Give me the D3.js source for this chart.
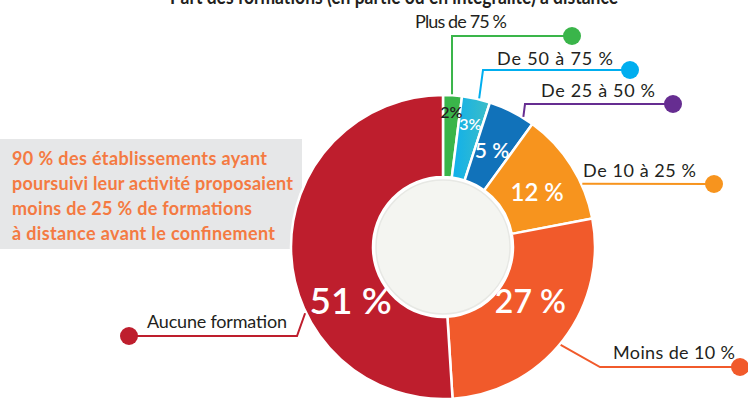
<!DOCTYPE html>
<html>
<head>
<meta charset="utf-8">
<script src="https://cdn.jsdelivr.net/npm/d3@7"></script>
<style>
  body { margin: 0; background: #fff; }
  svg { display: block; font-family: Lato, "Open Sans", sans-serif; }
</style>
</head>
<body>
<svg id="chart" width="748" height="403"></svg>
<script>
// values
var categories = ["Plus de 75 %", "De 50 à 75 %", "De 25 à 50 %", "De 10 à 25 %", "Moins de 10 %", "Aucune formation"];
var shares = [2, 3, 5, 12, 27, 51];
var shareLabels = ["2%", "3%", "5 %", "12 %", "27 %", "51 %"];
var sliceColors = ["#3ab54a", "url(#blueGrad)", "#1172ba", "#f7941e", "#f15a2b", "#be1e2d"];
var dotColors = ["#3ab54a", "#00aeef", "#662d91", "#f7941e", "#f15a2b", "#be1e2d"];
var title = "Part des formations (en partie ou en intégralité) à distance";
var noteLines = ["90 % des établissements ayant", "poursuivi leur activité proposaient",
  "moins de 25 % de formations", "à distance avant le confinement"];

var svg = d3.select("#chart");
var cx = 443, cy = 247, outerR = 152, innerR = 70;

var defs = svg.append("defs");
var grad = defs.append("linearGradient").attr("id", "blueGrad")
  .attr("x1", "0%").attr("x2", "100%").attr("y1", "0%").attr("y2", "0%");
grad.append("stop").attr("offset", "0%").attr("stop-color", "#0fb0ec");
grad.append("stop").attr("offset", "100%").attr("stop-color", "#3dbdc6");

// title (cut at the top in the reference too)
svg.append("text")
  .attr("x", 394).attr("y", 4)
  .attr("text-anchor", "middle")
  .attr("textLength", 448).attr("lengthAdjust", "spacingAndGlyphs")
  .style("font-size", "21px").style("font-weight", "bold")
  .attr("fill", "#231f20")
  .text(title);

// grey note box
var noteWidths = [255, 281, 240, 263];
svg.append("rect").attr("x", 0).attr("y", 139).attr("width", 302).attr("height", 110).attr("fill", "#e6e7e8");
svg.append("g").selectAll("text")
  .data(noteLines)
  .join("text")
  .attr("x", 12)
  .attr("y", (d, i) => 165 + i * 25)
  .attr("textLength", (d, i) => noteWidths[i]).attr("lengthAdjust", "spacing")
  .style("font-size", "18px").style("font-weight", "bold")
  .attr("fill", "#f47a42")
  .text(d => d);

var pie = d3.pie().sort(null).value(d => d);
var arcs = pie(shares);
var arc = d3.arc().innerRadius(innerR).outerRadius(outerR);

var g = svg.append("g").attr("transform", "translate(" + cx + "," + cy + ")");

g.selectAll(".slice")
  .data(arcs)
  .join("path")
  .attr("class", "slice")
  .attr("d", arc)
  .attr("fill", (d, i) => sliceColors[i])
  .attr("stroke", "#fff")
  .attr("stroke-width", 2.5);

g.append("circle").attr("r", 67).attr("fill", "#f4f5f1").attr("stroke", "#e7e8e4").attr("stroke-width", 1.5);

function polar(d, t, r) {
  var a = d.startAngle + t * (d.endAngle - d.startAngle);
  return [cx + r * Math.sin(a), cy - r * Math.cos(a)];
}

// in-slice percentages: where in the slice (t) and how far out (r)
var inside = [
  { t: 0.5, r: 135, size: 16, color: "#231f20" },
  { t: 0.5, r: 126, size: 16, color: "#fff" },
  { t: 0.5, r: 108, size: 21, color: "#fff" },
  { t: 0.55, r: 109, size: 24, color: "#fff" },
  { t: 0.44, r: 103, size: 32, color: "#fff" },
  { t: 0.345, r: 107, size: 37, color: "#fff" }
];

svg.append("g").selectAll("text")
  .data(arcs)
  .join("text")
  .attr("x", (d, i) => polar(d, inside[i].t, inside[i].r)[0])
  .attr("y", (d, i) => polar(d, inside[i].t, inside[i].r)[1])
  .attr("text-anchor", "middle")
  .attr("dy", "0.35em")
  .style("font-size", (d, i) => inside[i].size + "px")
  .style("font-weight", 600)
  .attr("fill", (d, i) => inside[i].color)
  .text((d, i) => shareLabels[i]);

// callouts: attach point in slice, elbow, dot, text
var callouts = [
  { t: 0.47, elbow: [452, 36], end: [572, 36], tx: 415, ty: 28, tw: 92 },
  { t: 0.6, elbow: [483, 70], end: [630, 70], tx: 497, ty: 65, tw: 116 },
  { t: 0.76, elbow: [525, 104], end: [673, 104], tx: 541, ty: 97, tw: 114 },
  { t: 0.685, elbow: null, end: [714, 184], tx: 583, ty: 177, tw: 113 },
  { t: 0.52, elbow: [600, 367], end: [740, 367], tx: 613, ty: 359, tw: 122 },
  { t: 0.37, elbow: [297, 336], end: [129, 336], tx: 147, ty: 328, tw: 140 }
];

var co = svg.append("g");
arcs.forEach((d, i) => {
  var c = callouts[i];
  var p0 = polar(d, c.t, outerR + 1);
  var pts = [p0];
  if (c.elbow) pts.push(c.elbow);
  pts.push(c.end);
  co.append("path")
    .attr("d", d3.line()(pts))
    .attr("fill", "none")
    .attr("stroke", dotColors[i])
    .attr("stroke-width", 2);
  co.append("circle")
    .attr("cx", c.end[0]).attr("cy", c.end[1]).attr("r", 9)
    .attr("fill", dotColors[i]);
  co.append("text")
    .attr("x", c.tx).attr("y", c.ty)
    .attr("textLength", c.tw).attr("lengthAdjust", "spacing")
    .style("font-size", "18px")
    .attr("fill", "#231f20")
    .text(categories[i]);
});
</script>
</body>
</html>
